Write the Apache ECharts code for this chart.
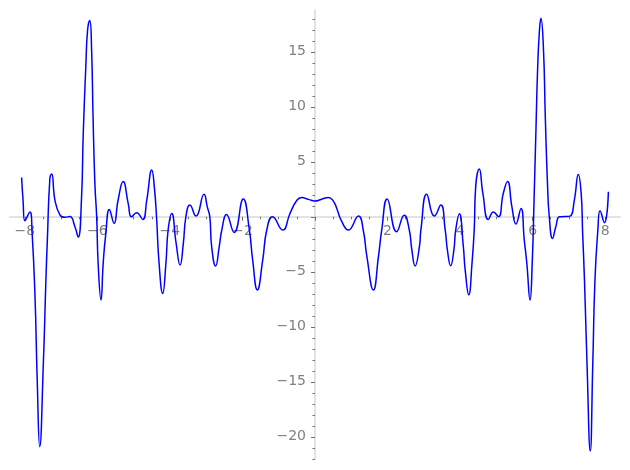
<!DOCTYPE html>
<html>
<head>
<meta charset="utf-8">
<script src="https://cdn.jsdelivr.net/npm/echarts@6/dist/echarts.min.js"></script>
<style>
html,body{margin:0;padding:0;background:#fff;}
#chart{width:630px;height:470px;}
</style>
</head>
<body>
<div id="chart"></div>
<script>
const xs = [-8.09,-8.05,-8.00,-7.86,-7.80,-7.72,-7.66,-7.59,-7.49,-7.42,-7.38,-7.31,-7.26,-7.17,-7.03,-6.90,-6.76,-6.62,-6.53,-6.44,-6.39,-6.32,-6.27,-6.21,-6.16,-6.12,-6.07,-6.02,-5.98,-5.90,-5.84,-5.77,-5.67,-5.54,-5.43,-5.29,-5.15,-5.06,-4.92,-4.75,-4.64,-4.50,-4.43,-4.37,-4.30,-4.20,-4.11,-4.05,-3.95,-3.83,-3.72,-3.63,-3.56,-3.45,-3.28,-3.06,-2.97,-2.90,-2.85,-2.74,-2.64,-2.57,-2.44,-2.23,-1.98,-1.81,-1.72,-1.59,-1.44,-1.33,-1.17,-0.89,-0.69,-0.50,-0.37,-0.18,0.00,
0.18,0.37,0.50,0.60,0.72,0.92,1.20,1.33,1.43,1.61,1.75,1.84,1.99,2.25,2.46,2.60,2.67,2.76,2.88,2.92,3.08,3.29,3.47,3.59,3.65,3.74,3.83,3.88,3.98,4.09,4.14,4.24,4.33,4.39,4.43,4.53,4.63,4.78,4.92,5.06,5.19,5.31,5.43,5.54,5.68,5.77,5.84,5.93,5.99,6.04,6.09,6.14,6.19,6.23,6.30,6.35,6.41,6.46,6.55,6.64,6.74,6.88,7.03,7.15,7.26,7.34,7.38,7.43,7.50,7.59,7.66,7.72,7.80,7.86,7.98,8.09];
const ys = [3.57,1.5,-0.36,0.43,-1.5,-7.3,-14.8,-20.9,-13.3,-5.75,-2.1,3.5,3.9,1.5,0.15,-0.05,0.02,-0.9,-1.85,1.5,7.6,13.6,17.0,17.85,15.2,9.1,3.06,0,-4.2,-7.57,-4.2,-1.6,0.67,-0.6,1.5,3.2,1.2,0.0,0.36,-0.24,1.5,4.25,2.7,0,-4.2,-6.97,-4.2,-1.2,0.3,-2.4,-4.39,-2.4,0,1.06,0.06,2.04,0.9,0,-2.7,-4.48,-2.7,-1.2,0.2,-1.42,1.61,-1.2,-3.9,-6.66,-3.9,-1.2,0.0,-1.21,0.3,1.5,1.76,1.58,1.43,
1.6,1.76,1.45,0.76,-0.3,-1.21,0.06,-1.2,-3.6,-6.66,-3.6,-1.2,1.61,-1.36,0.15,-1.2,-3.0,-4.48,-2.7,-1.2,2.04,0.06,1.06,-1.2,-3.0,-4.45,-3.0,-1.2,0.27,-2.7,-4.8,-7.1,-4.2,-1.2,2.7,4.34,2.1,-0.24,0.43,0,2.1,3.2,0.9,-0.66,0.76,-2.1,-4.2,-7.57,-4.2,1.5,7.6,13.6,17.0,18.05,15.2,9.1,3.06,0,-1.97,-0.9,0,0.02,0.06,1.5,3.85,2.1,-1.5,-5.7,-13.3,-21.3,-13.3,-5.7,-1.2,0.55,-0.55,2.27];

const xMajorTicks = [-8,-6,-4,-2,0,2,4,6,8];
const xLabels = [-8,-6,-4,-2,2,4,6,8];
const xMinorTicks = [-7.5,-7,-6.5,-5.5,-5,-4.5,-3.5,-3,-2.5,-1.5,-1,-0.5,0.5,1,1.5,2.5,3,3.5,4.5,5,5.5,6.5,7,7.5];
const yMajorTicks = [-20,-15,-10,-5,0,5,10,15];
const yLabels = [-20,-15,-10,-5,5,10,15];
const yMinorTicks = [-22,-21,-19,-18,-17,-16,-14,-13,-12,-11,-9,-8,-7,-6,-4,-3,-2,-1,1,2,3,4,6,7,8,9,11,12,13,14,16,17,18];

const xMin = -8.41, xMax = 8.41, yMin = -22.05, yMax = 18.8;

const W = 630, H = 470;
const gLeft = 10, gRight = 10, gTop = 10, gBottom = 10.7;
const gW = W - gLeft - gRight, gH = H - gTop - gBottom;
// offsets that put the axes through the origin
const xAxisOffset = -(gH * (0 - yMin) / (yMax - yMin));
const yAxisOffset = -(gW * (0 - xMin) / (xMax - xMin));

const data = xs.map((x, i) => [x, ys[i]]);
const fmt = v => String(v).replace('-', '\u2212');
const labelStyle = { color: '#808080', fontFamily: 'DejaVu Sans', fontSize: 14 };
const axisLineStyle = { color: '#e3e3e3', width: 2 };
const tickStyle = { color: '#707070', width: 1 };

const chart = echarts.init(document.getElementById('chart'), null, { renderer: 'canvas' });
chart.setOption({
  animation: false,
  backgroundColor: '#ffffff',
  grid: { left: gLeft, right: gRight, top: gTop, bottom: gBottom, containLabel: false, outerBoundsMode: 'none' },
  xAxis: [
    {
      type: 'value', min: xMin, max: xMax, position: 'bottom', offset: xAxisOffset,
      axisLine: { show: true, onZero: false, lineStyle: axisLineStyle },
      axisTick: { show: true, customValues: xMajorTicks, length: 4, lineStyle: tickStyle },
      axisLabel: { show: true, customValues: xLabels, formatter: fmt, margin: 8, hideOverlap: false, ...labelStyle },
      splitLine: { show: false }
    },
    {
      type: 'value', min: xMin, max: xMax, position: 'bottom', offset: xAxisOffset,
      axisLine: { show: false, onZero: false },
      axisTick: { show: true, customValues: xMinorTicks, length: 2.5, lineStyle: tickStyle },
      axisLabel: { show: false },
      splitLine: { show: false }
    }
  ],
  yAxis: [
    {
      type: 'value', min: yMin, max: yMax, position: 'left', offset: yAxisOffset,
      axisLine: { show: true, onZero: false, lineStyle: axisLineStyle },
      axisTick: { show: true, customValues: yMajorTicks, length: 4, lineStyle: tickStyle },
      axisLabel: { show: true, customValues: yLabels, formatter: fmt, margin: 9, hideOverlap: false, ...labelStyle },
      splitLine: { show: false }
    },
    {
      type: 'value', min: yMin, max: yMax, position: 'left', offset: yAxisOffset,
      axisLine: { show: false, onZero: false },
      axisTick: { show: true, customValues: yMinorTicks, length: 2.5, lineStyle: tickStyle },
      axisLabel: { show: false },
      splitLine: { show: false }
    }
  ],
  series: [{
    type: 'line',
    xAxisIndex: 0, yAxisIndex: 0,
    data: data,
    smooth: 0.5,
    showSymbol: false,
    lineStyle: { color: '#0000ff', width: 1.5 },
    z: 5
  }]
});
</script>
</body>
</html>
